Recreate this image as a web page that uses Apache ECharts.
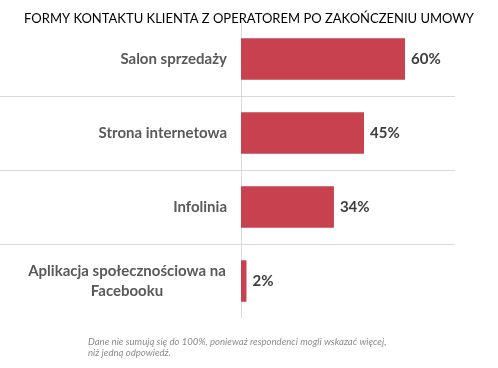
<!DOCTYPE html>
<html>
<head>
<meta charset="utf-8">
<script src="https://cdn.jsdelivr.net/npm/echarts@6/dist/echarts.min.js"></script>
<style>
html,body{margin:0;padding:0;background:#fff;}
#c{width:498px;height:368px;}
</style>
</head>
<body>
<div id="c"></div>
<script>
const chartTitle = 'FORMY KONTAKTU KLIENTA Z OPERATOREM PO ZAKOŃCZENIU UMOWY';
const categories = ['Salon sprzedaży', 'Strona internetowa', 'Infolinia', 'Aplikacja społecznościowa na\nFacebooku'];
const values = [60, 45, 34, 2];
const footnote = 'Dane nie sumują się do 100%, ponieważ respondenci mogli wskazać więcej,\nniż jedną odpowiedź.';

const chart = echarts.init(document.getElementById('c'), null, {renderer: 'canvas'});
const font = 'Lato, "Open Sans", sans-serif';
chart.setOption({
  animation: false,
  backgroundColor: '#fff',
  title: [{
    text: chartTitle,
    left: 'center',
    top: 7,
    textStyle: {fontFamily: font, fontSize: 13, fontWeight: 'normal', color: '#000'}
  }, {
    text: footnote,
    left: 83,
    top: 331,
    textStyle: {fontFamily: font, fontSize: 9.6, fontStyle: 'italic', fontWeight: 'normal', color: '#8c8c8c', lineHeight: 11}
  }],
  grid: [
    {left: 0, right: 43, top: 22, bottom: 50, containLabel: false, outerBoundsMode: 'none'},
    {left: 241, right: 43, top: 22, bottom: 50, containLabel: false, outerBoundsMode: 'none'}
  ],
  xAxis: [{
    gridIndex: 0, type: 'value', min: 0, max: 100, show: false
  }, {
    gridIndex: 1, type: 'value', min: 0, max: 78.3,
    axisLine: {show: false}, axisTick: {show: false}, axisLabel: {show: false}, splitLine: {show: false}
  }],
  yAxis: [{
    gridIndex: 0,
    type: 'category',
    data: categories,
    inverse: true,
    axisLine: {show: false}, axisTick: {show: false}, axisLabel: {show: false},
    splitLine: {show: true, showMinLine: false, showMaxLine: false, lineStyle: {color: '#d9d9d9', width: 1}}
  }, {
    gridIndex: 1,
    type: 'category',
    data: categories,
    inverse: true,
    axisLine: {show: true, lineStyle: {color: '#d9d9d9', width: 1}},
    axisTick: {show: false},
    splitLine: {show: false},
    axisLabel: {
      margin: 14,
      fontFamily: font, fontSize: 15, fontWeight: 'bold', color: '#595959',
      lineHeight: 20,
      formatter: function (v) {
        if (v.indexOf('\n') < 0) return v;
        return v.split('\n').map(s => '{c|' + s + '}').join('\n');
      },
      rich: {c: {width: 200, align: 'center', fontFamily: font, fontSize: 15, fontWeight: 'bold', color: '#595959', lineHeight: 20}}
    }
  }],
  series: [{
    type: 'bar',
    xAxisIndex: 1, yAxisIndex: 1,
    data: values,
    barCategoryGap: '44%',
    itemStyle: {color: '#c8414f'},
    label: {
      show: true, position: 'right', distance: 6,
      formatter: '{c}%',
      fontFamily: font, fontSize: 15, fontWeight: 'bold', color: '#3c3c3c'
    }
  }]
});
</script>
</body>
</html>
